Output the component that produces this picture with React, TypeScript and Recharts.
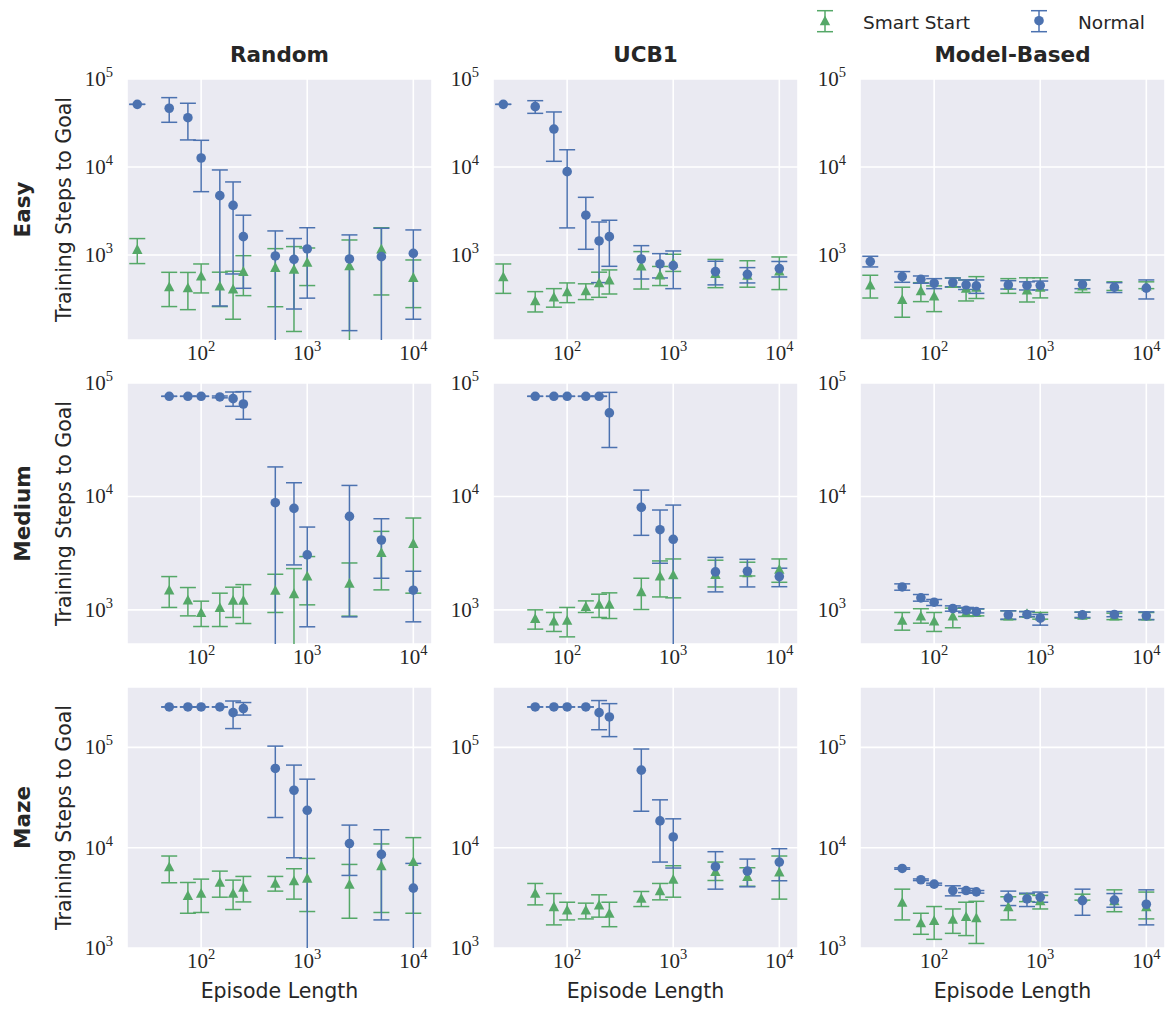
import React from 'react';
import { ScatterChart, Scatter, XAxis, YAxis, CartesianGrid, ErrorBar } from 'recharts';

// [mean, lower bound, upper bound]
type Stat = [number, number, number];

const EPISODE_LENGTHS_EASY = [25, 50, 75, 100, 150, 200, 250, 500, 750, 1000, 2500, 5000, 10000];
const EPISODE_LENGTHS = [50, 75, 100, 150, 200, 250, 500, 750, 1000, 2500, 5000, 10000];

const COLUMN_TITLES = ['Random', 'UCB1', 'Model-Based'];
const ROW_TITLES = ['Easy', 'Medium', 'Maze'];
const SERIES_NAMES = ['Smart Start', 'Normal'];
const X_TICKS = [100, 1000, 10000];
const Y_TICKS = [1000, 10000, 100000];
const X_DOMAIN: [number, number] = [20, 15000];
const Y_DOMAIN_EASY: [number, number] = [108, 100000];
const Y_DOMAIN_MEDIUM: [number, number] = [500, 100000];
const Y_DOMAIN_MAZE: [number, number] = [1000, 400000];

// ---------- Easy ----------
const randomEasySmart: Stat[] = [
  [1160, 798, 1535], [436, 259, 635], [425, 239, 633], [577, 370, 790], [445, 259, 637],
  [411, 186, 652], [652, 345, 982], [724, 258, 1180], [688, 135, 1245], [826, 449, 1200],
  [757, 60, 1480], [1170, 351, 2040], [557, 252, 877],
];
const randomEasyNormal: Stat[] = [
  [51500, 51500, 51500], [46500, 32200, 61400], [36300, 20300, 53000], [12650, 5240, 20100],
  [4720, 263, 9250], [3660, 608, 6760], [1615, 418, 2830], [975, 60, 1875], [893, 243, 1535],
  [1170, 323, 2040], [901, 138, 1690], [957, 60, 2010], [1045, 186, 1925],
];
const ucbEasySmart: Stat[] = [
  [567, 366, 790], [303, 225, 383], [333, 255, 414], [383, 287, 481], [393, 311, 470],
  [485, 330, 637], [520, 360, 676], [750, 410, 1092], [593, 449, 740], [810, 650, 1018],
  [617, 425, 890], [590, 430, 860], [660, 404, 949],
];
const ucbEasyNormal: Stat[] = [
  [51500, 51500, 51500], [48500, 40700, 56700], [27000, 11600, 42200], [8850, 2030, 15700],
  [2830, 1160, 4520], [1443, 485, 2370], [1615, 743, 2480], [900, 533, 1276], [790, 548, 1035],
  [757, 414, 1110], [647, 457, 848], [603, 481, 718], [700, 562, 843],
];
const mbEasySmart: Stat[] = [
  [457, 324, 588], [313, 196, 430], [393, 295, 484], [342, 227, 445], [475, 430, 547],
  [420, 300, 520], [430, 320, 567], [450, 366, 538], [400, 292, 550], [430, 325, 550],
  [445, 374, 520], [440, 395, 495], [445, 414, 495],
];
const mbEasyNormal: Stat[] = [
  [840, 731, 966], [567, 489, 647], [528, 477, 577], [477, 414, 538], [485, 435, 547],
  [457, 405, 520], [445, 366, 520], [457, 410, 510], [450, 400, 495], [450, 400, 505],
  [462, 414, 520], [430, 374, 484], [420, 316, 520],
];

// ---------- Medium ----------
const randomMediumSmart: Stat[] = [
  [1500, 1050, 1965], [1225, 885, 1573], [948, 713, 1193], [1050, 713, 1403], [1217, 857, 1584],
  [1217, 758, 1670], [1490, 948, 2060], [1393, 300, 2310], [1990, 1107, 2950], [1717, 880, 2590],
  [3215, 1500, 4920], [3860, 1403, 6450],
];
const randomMediumNormal: Stat[] = [
  [76300, 76300, 76300], [76300, 76300, 76300], [76300, 76300, 76300], [75300, 74000, 76800],
  [72800, 62300, 83300], [65300, 47900, 83900], [8800, 300, 18200], [7840, 2490, 13200],
  [3050, 709, 5370], [6670, 867, 12500], [4130, 1900, 6360], [1490, 784, 2190],
];
const ucbMediumSmart: Stat[] = [
  [839, 676, 1000], [800, 645, 948], [810, 578, 1050], [1070, 948, 1200], [1122, 857, 1374],
  [1122, 839, 1412], [1450, 1007, 1900], [1990, 1300, 2700], [2040, 1276, 2810], [2050, 1592, 2740],
  [2130, 1990, 2630], [2280, 1750, 2810],
];
const ucbMediumNormal: Stat[] = [
  [76300, 76300, 76300], [76300, 76300, 76300], [76300, 76300, 76300], [76300, 76300, 76300],
  [76300, 76300, 76300], [54500, 27000, 82700], [8000, 4540, 11370], [5090, 2575, 7590],
  [4190, 300, 8390], [2160, 1440, 2900], [2190, 1592, 2790], [1965, 1600, 2330],
];
const mbMediumSmart: Stat[] = [
  [810, 662, 948], [885, 763, 1023], [800, 645, 948], [885, 695, 1035], [948, 875, 1035],
  [948, 885, 1018], [885, 820, 980], [930, 870, 966], [885, 828, 948], [900, 845, 955],
  [885, 820, 935], [885, 820, 948],
];
const mbMediumNormal: Stat[] = [
  [1592, 1490, 1695], [1276, 1193, 1365], [1168, 1092, 1234], [1028, 973, 1084], [993, 945, 1050],
  [966, 940, 1023], [904, 828, 980], [910, 870, 966], [845, 733, 910], [904, 857, 955],
  [910, 870, 966], [885, 820, 960],
];

// ---------- Maze ----------
const randomMazeSmart: Stat[] = [
  [6460, 4470, 8260], [3340, 2220, 4500], [3520, 2260, 4860], [4540, 3210, 5840], [3520, 2420, 4750],
  [4040, 2880, 5170], [4430, 3690, 5170], [4680, 3070, 6170], [4980, 2310, 7820], [4330, 1980, 6810],
  [6610, 2260, 10900], [7300, 2220, 12600],
];
const randomMazeNormal: Stat[] = [
  [253000, 253000, 253000], [253000, 253000, 253000], [253000, 253000, 253000], [253000, 253000, 253000],
  [222000, 154000, 290000], [244000, 210000, 280000], [61700, 20000, 103000], [37400, 7940, 66600],
  [23600, 600, 48200], [11000, 5290, 16800], [8570, 1905, 15100], [3950, 600, 6970],
];
const ucbMazeSmart: Stat[] = [
  [3520, 2690, 4400], [2590, 1700, 3490], [2400, 1905, 2860], [2400, 1950, 2800], [2690, 2030, 3390],
  [2220, 1630, 2860], [3140, 2590, 3660], [3740, 3020, 4400], [4860, 3210, 6610], [5790, 4710, 7190],
  [5170, 4130, 6310], [5730, 3070, 8260],
];
const ucbMazeNormal: Stat[] = [
  [253000, 253000, 253000], [253000, 253000, 253000], [253000, 253000, 253000], [253000, 253000, 253000],
  [222000, 150000, 293000], [201000, 128000, 273000], [59300, 23100, 96300], [18500, 7190, 30000],
  [12800, 6270, 19400], [6460, 3860, 9120], [5840, 4075, 7700], [7190, 4680, 9770],
];
const mbMazeSmart: Stat[] = [
  [2860, 1905, 3860], [1790, 1370, 2220], [1880, 1220, 2590], [1940, 1400, 2450], [2060, 1330, 2860],
  [2010, 1110, 2920], [2580, 1905, 3240], [3210, 2900, 3450], [2970, 2450, 3340], [3200, 3000, 3440],
  [2970, 2300, 3800], [2590, 1950, 3610],
];
const mbMazeNormal: Stat[] = [
  [6210, 6100, 6300], [4790, 4700, 4880], [4330, 4230, 4430], [3740, 3310, 4170], [3740, 3570, 3920],
  [3630, 3520, 3740], [3140, 2650, 3690], [3090, 2590, 3520], [3210, 2860, 3610], [2970, 2120, 3860],
  [3000, 2550, 3490], [2730, 1700, 3800],
];

// ---------- styling / layout ----------
const GREEN = '#55A868';
const BLUE = '#4C72B0';
const BG = '#EAEAF2';
const TEXT = '#262626';
const SANS = '"DejaVu Sans", sans-serif';
const SERIF = '"Liberation Serif", serif';

const PLOT_W = 305;
const PLOT_H = 261;
const COL_LEFT = [127, 493, 860];
const ROW_TOP = [79, 383, 687];
const PAD_L = 60;
const PAD_T = 20;
const PAD_R = 12;
const PAD_B = 30;
const CLIP_ID = 'panel-plot-clip';

const toRows = (xs: number[], stats: Stat[]) =>
  xs.map((x, i) => ({ x, y: stats[i][0], err: [stats[i][0] - stats[i][1], stats[i][2] - stats[i][0]] }));

const Triangle = (props: any) => {
  const { cx, cy } = props;
  if (cx == null || cy == null) return null;
  return <polygon points={`${cx},${cy - 5.2} ${cx - 5.2},${cy + 4.6} ${cx + 5.2},${cy + 4.6}`} fill={GREEN} />;
};
const Dot = (props: any) => {
  const { cx, cy } = props;
  if (cx == null || cy == null) return null;
  return <circle cx={cx} cy={cy} r={4.8} fill={BLUE} />;
};

const Pow10 = ({ x, y, anchor, value }: { x: number; y: number; anchor: 'middle' | 'end'; value: number }) => {
  const exp = Math.round(Math.log10(value));
  return (
    <text x={x} y={y} textAnchor={anchor} fontFamily={SERIF} fontSize={21} fill={TEXT}>
      <tspan>10</tspan>
      <tspan dy={-9} fontSize={14.5}>{exp}</tspan>
    </text>
  );
};
const XTick = (props: any) => <Pow10 x={props.x} y={props.y + 20} anchor="middle" value={props.payload.value} />;
const YTick = (props: any) => <Pow10 x={props.x - 14} y={props.y + 7} anchor="end" value={props.payload.value} />;

type PanelProps = { xs: number[]; smart: Stat[]; normal: Stat[]; yDomain: [number, number]; col: number; row: number };

const Panel = ({ xs, smart, normal, yDomain, col, row }: PanelProps) => {
  const left = COL_LEFT[col] - PAD_L;
  const top = ROW_TOP[row] - PAD_T;
  return (
    <div style={{ position: 'absolute', left, top }}>
      <ScatterChart
        width={PLOT_W + PAD_L + PAD_R}
        height={PLOT_H + PAD_T + PAD_B}
        margin={{ top: PAD_T, right: PAD_R, bottom: 0, left: 0 }}
      >
        <CartesianGrid fill={BG} fillOpacity={1} stroke="#FFFFFF" strokeWidth={1.6} />
        <XAxis
          dataKey="x"
          type="number"
          scale="log"
          domain={X_DOMAIN}
          allowDataOverflow
          ticks={X_TICKS}
          height={PAD_B}
          axisLine={false}
          tickLine={false}
          tickSize={0}
          tickMargin={0}
          tick={<XTick />}
          interval={0}
        />
        <YAxis
          dataKey="y"
          type="number"
          scale="log"
          domain={yDomain}
          allowDataOverflow
          ticks={Y_TICKS}
          width={PAD_L}
          axisLine={false}
          tickLine={false}
          tickSize={0}
          tickMargin={0}
          tick={<YTick />}
          interval={0}
        />
        <Scatter name={SERIES_NAMES[0]} data={toRows(xs, smart)} shape={<Triangle />} isAnimationActive={false}>
          <ErrorBar
            dataKey="err"
            direction="y"
            width={8}
            stroke={GREEN}
            strokeWidth={1.5}
            clipPath={`url(#${CLIP_ID})`}
            isAnimationActive={false}
          />
        </Scatter>
        <Scatter name={SERIES_NAMES[1]} data={toRows(xs, normal)} shape={<Dot />} isAnimationActive={false}>
          <ErrorBar
            dataKey="err"
            direction="y"
            width={8}
            stroke={BLUE}
            strokeWidth={1.5}
            clipPath={`url(#${CLIP_ID})`}
            isAnimationActive={false}
          />
        </Scatter>
      </ScatterChart>
    </div>
  );
};

const PANELS: PanelProps[] = [
  { xs: EPISODE_LENGTHS_EASY, smart: randomEasySmart, normal: randomEasyNormal, yDomain: Y_DOMAIN_EASY, col: 0, row: 0 },
  { xs: EPISODE_LENGTHS_EASY, smart: ucbEasySmart, normal: ucbEasyNormal, yDomain: Y_DOMAIN_EASY, col: 1, row: 0 },
  { xs: EPISODE_LENGTHS_EASY, smart: mbEasySmart, normal: mbEasyNormal, yDomain: Y_DOMAIN_EASY, col: 2, row: 0 },
  { xs: EPISODE_LENGTHS, smart: randomMediumSmart, normal: randomMediumNormal, yDomain: Y_DOMAIN_MEDIUM, col: 0, row: 1 },
  { xs: EPISODE_LENGTHS, smart: ucbMediumSmart, normal: ucbMediumNormal, yDomain: Y_DOMAIN_MEDIUM, col: 1, row: 1 },
  { xs: EPISODE_LENGTHS, smart: mbMediumSmart, normal: mbMediumNormal, yDomain: Y_DOMAIN_MEDIUM, col: 2, row: 1 },
  { xs: EPISODE_LENGTHS, smart: randomMazeSmart, normal: randomMazeNormal, yDomain: Y_DOMAIN_MAZE, col: 0, row: 2 },
  { xs: EPISODE_LENGTHS, smart: ucbMazeSmart, normal: ucbMazeNormal, yDomain: Y_DOMAIN_MAZE, col: 1, row: 2 },
  { xs: EPISODE_LENGTHS, smart: mbMazeSmart, normal: mbMazeNormal, yDomain: Y_DOMAIN_MAZE, col: 2, row: 2 },
];

const LegendIcon = ({ x, color, kind }: { x: number; color: string; kind: 'tri' | 'dot' }) => (
  <g>
    <line x1={x} x2={x} y1={10.7} y2={31.7} stroke={color} strokeWidth={1.5} />
    <line x1={x - 8} x2={x + 8} y1={10.7} y2={10.7} stroke={color} strokeWidth={1.5} />
    <line x1={x - 8} x2={x + 8} y1={31.7} y2={31.7} stroke={color} strokeWidth={1.5} />
    {kind === 'tri' ? (
      <polygon points={`${x},${20.7 - 5.2} ${x - 5.2},${20.7 + 4.6} ${x + 5.2},${20.7 + 4.6}`} fill={color} />
    ) : (
      <circle cx={x} cy={20.7} r={4.8} fill={color} />
    )}
  </g>
);

const Annotations = () => (
  <svg width={1171} height={1010} style={{ position: 'absolute', left: 0, top: 0, pointerEvents: 'none' }}>
    <defs>
      <clipPath id={CLIP_ID} clipPathUnits="userSpaceOnUse">
        <rect x={PAD_L} y={PAD_T} width={PLOT_W} height={PLOT_H} />
      </clipPath>
    </defs>
    <LegendIcon x={825} color={GREEN} kind="tri" />
    <text x={863} y={29} fontFamily={SANS} fontSize={18.5} fill={TEXT}>{SERIES_NAMES[0]}</text>
    <LegendIcon x={1039} color={BLUE} kind="dot" />
    <text x={1078} y={29} fontFamily={SANS} fontSize={18.5} fill={TEXT}>{SERIES_NAMES[1]}</text>
    {COLUMN_TITLES.map((t, i) => (
      <text key={t} x={COL_LEFT[i] + PLOT_W / 2} y={62} textAnchor="middle" fontFamily={SANS} fontWeight="bold" fontSize={21.5} fill={TEXT}>
        {t}
      </text>
    ))}
    {ROW_TITLES.map((t, i) => {
      const cy = ROW_TOP[i] + PLOT_H / 2;
      return (
        <g key={t}>
          <text transform={`translate(30, ${cy}) rotate(-90)`} textAnchor="middle" fontFamily={SANS} fontWeight="bold" fontSize={21.5} fill={TEXT}>
            {t}
          </text>
          <text transform={`translate(71, ${cy}) rotate(-90)`} textAnchor="middle" fontFamily={SANS} fontSize={20.5} fill={TEXT}>
            Training Steps to Goal
          </text>
        </g>
      );
    })}
    {COLUMN_TITLES.map((t, i) => (
      <text key={t} x={COL_LEFT[i] + PLOT_W / 2} y={998} textAnchor="middle" fontFamily={SANS} fontSize={20.5} fill={TEXT}>
        Episode Length
      </text>
    ))}
  </svg>
);

export default function App() {
  return (
    <div style={{ position: 'absolute', left: 0, top: 0, width: 1171, height: 1010, background: '#FFFFFF' }}>
      <Annotations />
      {PANELS.map((p, i) => (
        <Panel key={i} {...p} />
      ))}
    </div>
  );
}
